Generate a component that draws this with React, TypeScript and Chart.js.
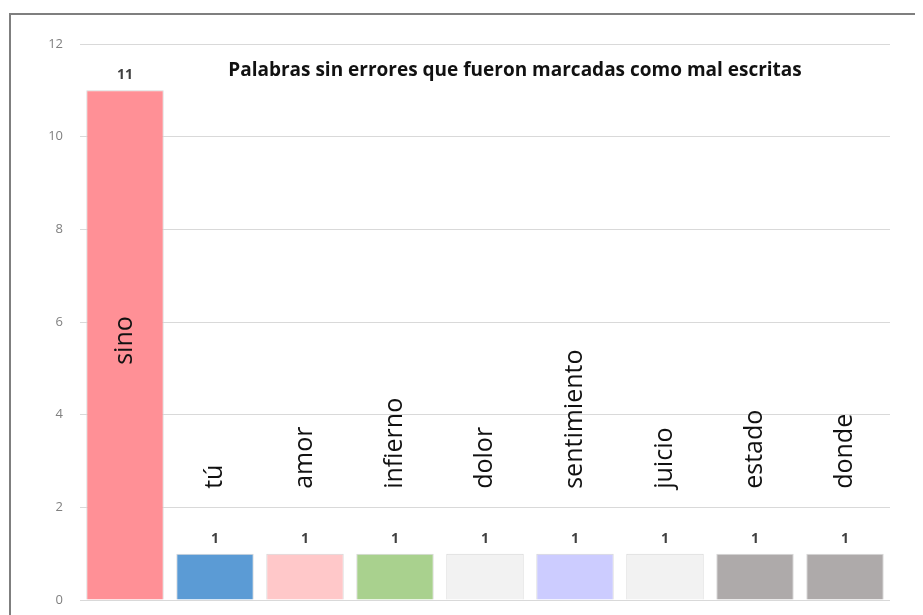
import React, { useEffect, useRef } from "react";
import { Chart, registerables } from "chart.js";

Chart.register(...registerables);

const categories = ["sino", "tú", "amor", "infierno", "dolor", "sentimiento", "juicio", "estado", "donde"];
const values = [11, 1, 1, 1, 1, 1, 1, 1, 1];
const barColors = ["#FF9096", "#5B9BD5", "#FFC8C9", "#A9D18E", "#F2F2F2", "#CCCCFF", "#F2F2F2", "#AEAAAA", "#AEAAAA"];
const yTicks = [0, 2, 4, 6, 8, 10, 12];
const titleText = "Palabras sin errores que fueron marcadas como mal escritas";
const wordLabelStart = 2.4;

const FONT = "'Open Sans', 'Noto Sans', sans-serif";

const labelPlugin = {
  id: "labelPlugin",
  afterDatasetsDraw(chart: any) {
    const ctx = chart.ctx;
    const meta = chart.getDatasetMeta(0);
    const yScale = chart.scales.y;
    const area = chart.chartArea;
    ctx.save();
    // value labels
    ctx.font = `bold 14px ${FONT}`;
    ctx.fillStyle = "#404040";
    ctx.textAlign = "center";
    ctx.textBaseline = "middle";
    meta.data.forEach((bar: any, i: number) => {
      ctx.fillText(String(values[i]), bar.x, bar.y - 15);
    });
    // word labels (rotated)
    ctx.font = `25px ${FONT}`;
    ctx.fillStyle = "#111111";
    meta.data.forEach((bar: any, i: number) => {
      ctx.save();
      const v = values[i];
      if (v > wordLabelStart + 2) {
        const yMid = yScale.getPixelForValue(v / 2 + 0.1);
        ctx.translate(bar.x, yMid);
        ctx.rotate(-Math.PI / 2);
        ctx.textAlign = "center";
      } else {
        const y0 = yScale.getPixelForValue(wordLabelStart);
        ctx.translate(bar.x, y0);
        ctx.rotate(-Math.PI / 2);
        ctx.textAlign = "left";
      }
      ctx.textBaseline = "middle";
      ctx.fillText(categories[i], 0, 0);
      ctx.restore();
    });
    // title
    ctx.font = `bold 19px ${FONT}`;
    ctx.fillStyle = "#111111";
    ctx.textAlign = "center";
    ctx.textBaseline = "middle";
    ctx.fillText(titleText, (area.left + area.right) / 2 + 30, area.top + 27);
    ctx.restore();
  },
};

export default function App() {
  const ref = useRef<HTMLCanvasElement | null>(null);
  useEffect(() => {
    if (!ref.current) return;
    const chart = new Chart(ref.current, {
      type: "bar",
      data: {
        labels: categories,
        datasets: [
          {
            data: values,
            backgroundColor: barColors,
            borderColor: "#d6d6d6",
            borderWidth: 1,
            categoryPercentage: 1,
            barPercentage: 0.86,
          },
        ],
      },
      options: {
        responsive: false,
        animation: false,
        layout: { padding: { top: 29, right: 21, bottom: 35, left: 0 } },
        plugins: { legend: { display: false }, tooltip: { enabled: false }, title: { display: false } },
        scales: {
          x: { display: false },
          y: {
            min: 0,
            max: 12,
            afterFit: (s: any) => {
              s.width = 69;
            },
            afterBuildTicks: (s: any) => {
              s.ticks = yTicks.map((v) => ({ value: v }));
            },
            border: { display: false },
            grid: { color: "#d9d9d9", lineWidth: 1, drawTicks: false },
            ticks: { color: "#808080", font: { family: FONT, size: 13 }, padding: 17 },
          },
        },
      },
      plugins: [labelPlugin],
    });
    return () => chart.destroy();
  }, []);
  return (
    <div style={{ width: 915, height: 607, overflow: "hidden" }}>
      <div
        style={{
          marginLeft: 1,
          marginTop: 5,
          width: 960,
          height: 640,
          border: "2px solid #7f7f7f",
          boxSizing: "border-box",
          background: "#fff",
        }}
      >
        <canvas ref={ref} width={900} height={620} style={{ display: "block" }} />
      </div>
    </div>
  );
}
